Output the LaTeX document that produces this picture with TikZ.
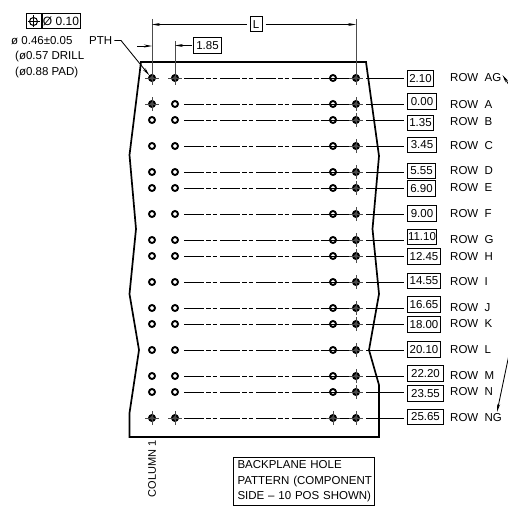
\documentclass[tikz,border=0pt]{standalone}
\usepackage{fontspec}
\setmainfont{Liberation Sans}
\usetikzlibrary{arrows.meta}
\definecolor{holefill}{gray}{0.3}
\tikzset{
  txt/.style={inner sep=0pt,font=\fontsize{11.5}{13}\selectfont},
  outline/.style={line width=1.7pt,line join=miter},
  thin line/.style={line width=0.85pt},
  center line/.style={line width=0.85pt,dash pattern=on 20pt off 2pt on 4.5pt off 2pt on 4.5pt off 3pt},
  valbox/.style={draw,line width=1pt,inner sep=0pt,minimum height=15.5pt,anchor=west,txt},
  ring/.style={circle,draw,line width=1.9pt,inner sep=0pt,minimum size=6pt},
  pin/.style={ring,fill=holefill},
  tip/.style={-{Stealth[length=8pt,width=3pt]}},
  axis/.style={line width=0.9pt,black!70}
}
\begin{document}
\begin{tikzpicture}[x=1pt,y=-1pt]
\useasboundingbox (0,0) rectangle (508,508);
% part outline
\draw[outline] (141,62) -- (366,62) -- (379,156) -- (372.5,229) -- (379,294) -- (369,350) -- (379,385) -- (379,437) -- (129.5,437) -- (129.5,413) -- (139,350) -- (129.5,294) -- (136,229) -- (129.5,155) -- cycle;
% rows
\foreach \r/\y/\v/\bw/\by/\ly/\ca/\cb/\cc/\lab in {
  AG/78/2.10/26/78.5/78/pin/pin/ring/ROW\ \ AG,
  A/104/0.00/29/101.5/105/pin/ring/ring/ROW\ \ A,
  B/120/1.35/26/123/122/ring/ring/ring/ROW\ \ B,
  C/146/3.45/29/145/146/ring/ring/ring/ROW\ \ C,
  D/172/5.55/28/171/171/ring/ring/ring/ROW\ \ D,
  E/188/6.90/28/188.5/188/ring/ring/ring/ROW\ \ E,
  F/214/9.00/29/213.5/214/ring/ring/ring/ROW\ \ F,
  G/240/11.10/29/237/240/ring/ring/ring/ROW\ \ G,
  H/256/12.45/33/256.5/257/ring/ring/ring/ROW\ \ H,
  I/282/14.55/33/281/282/ring/ring/ring/ROW\ \ I,
  J/308/16.65/33/304.5/308/ring/ring/ring/ROW\ \ J,
  K/324/18.00/33/324.5/324/ring/ring/ring/ROW\ \ K,
  L/350/20.10/33/349.5/350/ring/ring/ring/ROW\ \ L,
  M/376/22.20/36/373.5/376/ring/ring/ring/ROW\ \ M,
  N/392/23.55/36/393.5/392/ring/ring/ring/ROW\ \ N,
  NG/418/25.65/36/417/418/pin/pin/pin/ROW\ \ NG}{
  \node[\ca] (a\r) at (152,\y) {};
  \node[\cb] (b\r) at (175,\y) {};
  \node[\cc] (c\r) at (333,\y) {};
  \node[pin] (d\r) at (356,\y) {};
  \node[valbox,minimum width=\bw pt] (v\r) at (407,\by) {\v};
  \node[txt,anchor=west] (t\r) at (450,\ly) {\lab};
  \draw[center line,shorten <=9pt] (b\r.center) -- (c\r.center);
  \draw[thin line,shorten <=-5pt] (c\r.west) -- (d\r.west);
  \draw[thin line,shorten <=10pt,shorten >=3pt] (d\r.center) -- (v\r.west |- d\r.center);
  \draw[axis] ([yshift=-7pt]d\r.center) -- ([yshift=7pt]d\r.center);
  \draw[axis] ([xshift=-7pt]d\r.center) -- ([xshift=7pt]d\r.center);
}
% crosshairs on the other pinned holes
\foreach \n in {aAG,bAG,aA,aNG,bNG,cNG}{
  \draw[axis] ([yshift=-7pt]\n.center) -- ([yshift=7pt]\n.center);
  \draw[axis] ([xshift=-7pt]\n.center) -- ([xshift=7pt]\n.center);
}
% extension lines
\coordinate (eA) at (152,19);
\coordinate (eB) at (175,41);
\coordinate (eD) at (356,19);
\draw[axis] (eA) -- (aAG.center);
\draw[axis] (eB) -- (bAG.center);
\draw[axis] (eD) -- (dAG.center);
% L dimension
\node[draw,line width=1pt,txt,minimum width=12pt,minimum height=15pt] (dimL) at (256,24.5) {L};
\draw[thin line,tip] (dimL.west) ++(-3,0) -- (152,24.5);
\draw[thin line,tip] (dimL.east) ++(3,0) -- (356,24.5);
% 1.85 dimension
\node[valbox,minimum width=28pt] (dim185) at (193,45.5) {1.85};
\coordinate (lArrow) at (137,46);
\draw[thin line,tip] (lArrow) -- (152,46);
\draw[thin line,tip,shorten <=1pt] (dim185.west) -- (175,45.5);
% tolerance frame
\node[draw,line width=1pt,minimum width=15pt,minimum height=15pt,inner sep=0pt] (fsym) at (33.5,21.5) {};
\node[draw,line width=1pt,minimum width=38pt,minimum height=15pt,inner sep=0pt,txt,anchor=west,font=\fontsize{12}{13}\selectfont] (fval) at (fsym.east) {Ø 0.10};
\node[circle,draw,line width=1pt,minimum size=8pt,inner sep=0pt] (fcirc) at (fsym.center) {};
\draw[thin line] ([xshift=-6pt]fcirc.center) -- ([xshift=6pt]fcirc.center);
\draw[thin line] ([yshift=-6pt]fcirc.center) -- ([yshift=6pt]fcirc.center);
% callout
\node[txt,anchor=west] (dia) at (11,40.5) {ø 0.46±0.05};
\node[txt,anchor=west] (pth) at (89,40.5) {PTH};
\node[txt,anchor=west] (drill) at (15,56.5) {(ø0.57 DRILL};
\node[txt,anchor=west] (pad) at (15,73) {(ø0.88 PAD)};
\draw[thin line,tip] (pth.east) ++(2,0) -- (121,40.5) -- (aAG.north west);
% column label
\node[txt,rotate=90,anchor=east,font=\fontsize{11}{13}\selectfont] (col) at (152,440) {COLUMN 1};
% note box
\node[draw,line width=1pt,anchor=north west,align=left,inner xsep=4pt,inner ysep=0pt,text width=133pt,minimum height=48pt,font=\fontsize{11.5}{15.5}\selectfont] (note) at (233,457) {\mbox{BACKPLANE HOLE}\\\mbox{PATTERN (COMPONENT}\\\mbox{SIDE -- 10 POS SHOWN)}};
% flag leaders
\coordinate (fA) at (512,89.5);
\coordinate (fB) at (508.5,357);
\draw[thin line,tip] (fA) -- ([xshift=1pt,yshift=3pt]tAG.east);
\draw[thin line,tip] (fB) -- (497,412);
\end{tikzpicture}
\end{document}
